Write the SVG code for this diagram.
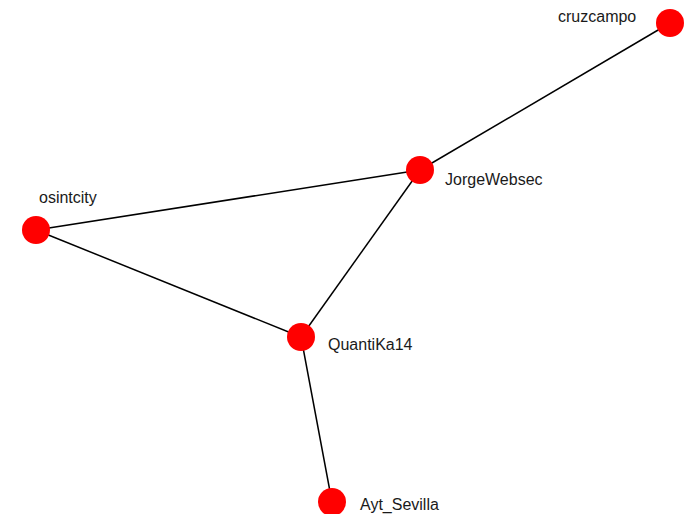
<svg xmlns="http://www.w3.org/2000/svg" width="695" height="514" viewBox="0 0 695 514">
<style>
.e{stroke:#000;stroke-width:1.5;fill:none}
.n{fill:#ff0000}
.t{font-family:"Liberation Sans",Arial,sans-serif;font-size:16px;fill:#1a1a1a}
</style>
<rect width="695" height="514" fill="#fff"/>
<g id="edges">
<line class="e" x1="670" y1="23" x2="420" y2="170"/>
<line class="e" x1="420" y1="170" x2="36" y2="230"/>
<line class="e" x1="420" y1="170" x2="301" y2="337"/>
<line class="e" x1="36" y1="230" x2="301" y2="337"/>
<line class="e" x1="301" y1="337" x2="332" y2="502"/>
</g>
<g id="cruzcampo"><circle class="n" cx="670" cy="23" r="14"/><text class="t" x="558" y="22">cruzcampo</text></g>
<g id="JorgeWebsec"><circle class="n" cx="420" cy="170" r="14"/><text class="t" x="445" y="185">JorgeWebsec</text></g>
<g id="osintcity"><circle class="n" cx="36" cy="230" r="14"/><text class="t" x="39" y="203">osintcity</text></g>
<g id="QuantiKa14"><circle class="n" cx="301" cy="337" r="14"/><text class="t" x="328" y="350">QuantiKa14</text></g>
<g id="Ayt_Sevilla"><circle class="n" cx="332" cy="502" r="14"/><text class="t" x="360" y="510">Ayt_Sevilla</text></g>
</svg>
